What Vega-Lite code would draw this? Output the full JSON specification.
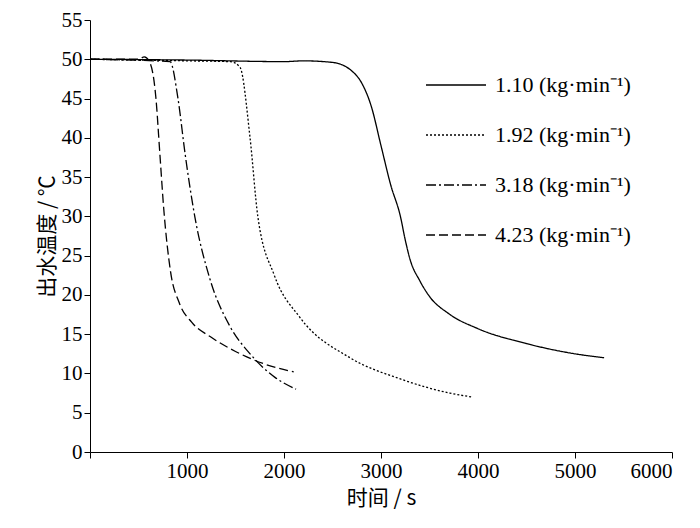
{
  "$schema": "https://vega.github.io/schema/vega-lite/v6.json",
  "width": 582,
  "height": 432,
  "autosize": {"type": "none"},
  "padding": {"left": 90, "top": 20, "right": 28, "bottom": 76},
  "background": "white",
  "data": {"values": [
    {"s": "1.10 (kg·min⁻¹)", "t": 0, "v": 50},
    {"s": "1.10 (kg·min⁻¹)", "t": 1000, "v": 49.9},
    {"s": "1.10 (kg·min⁻¹)", "t": 2000, "v": 49.7},
    {"s": "1.10 (kg·min⁻¹)", "t": 2200, "v": 49.8},
    {"s": "1.10 (kg·min⁻¹)", "t": 2500, "v": 49.6},
    {"s": "1.10 (kg·min⁻¹)", "t": 2700, "v": 48.5},
    {"s": "1.10 (kg·min⁻¹)", "t": 2800, "v": 47},
    {"s": "1.10 (kg·min⁻¹)", "t": 2900, "v": 44},
    {"s": "1.10 (kg·min⁻¹)", "t": 3000, "v": 39},
    {"s": "1.10 (kg·min⁻¹)", "t": 3100, "v": 34},
    {"s": "1.10 (kg·min⁻¹)", "t": 3200, "v": 30},
    {"s": "1.10 (kg·min⁻¹)", "t": 3250, "v": 27},
    {"s": "1.10 (kg·min⁻¹)", "t": 3300, "v": 24.5},
    {"s": "1.10 (kg·min⁻¹)", "t": 3400, "v": 21.8},
    {"s": "1.10 (kg·min⁻¹)", "t": 3500, "v": 19.8},
    {"s": "1.10 (kg·min⁻¹)", "t": 3700, "v": 17.6},
    {"s": "1.10 (kg·min⁻¹)", "t": 4000, "v": 15.7},
    {"s": "1.10 (kg·min⁻¹)", "t": 4500, "v": 13.8},
    {"s": "1.10 (kg·min⁻¹)", "t": 5000, "v": 12.5},
    {"s": "1.10 (kg·min⁻¹)", "t": 5300, "v": 12},
    {"s": "1.92 (kg·min⁻¹)", "t": 0, "v": 50},
    {"s": "1.92 (kg·min⁻¹)", "t": 1000, "v": 49.8},
    {"s": "1.92 (kg·min⁻¹)", "t": 1450, "v": 49.7},
    {"s": "1.92 (kg·min⁻¹)", "t": 1546, "v": 49},
    {"s": "1.92 (kg·min⁻¹)", "t": 1650, "v": 40},
    {"s": "1.92 (kg·min⁻¹)", "t": 1730, "v": 30},
    {"s": "1.92 (kg·min⁻¹)", "t": 1900, "v": 22.5},
    {"s": "1.92 (kg·min⁻¹)", "t": 2160, "v": 17.2},
    {"s": "1.92 (kg·min⁻¹)", "t": 2680, "v": 12},
    {"s": "1.92 (kg·min⁻¹)", "t": 3200, "v": 9.3},
    {"s": "1.92 (kg·min⁻¹)", "t": 3710, "v": 7.5},
    {"s": "1.92 (kg·min⁻¹)", "t": 3940, "v": 7},
    {"s": "3.18 (kg·min⁻¹)", "t": 0, "v": 50},
    {"s": "3.18 (kg·min⁻¹)", "t": 825, "v": 49.7},
    {"s": "3.18 (kg·min⁻¹)", "t": 907, "v": 45},
    {"s": "3.18 (kg·min⁻¹)", "t": 980, "v": 38},
    {"s": "3.18 (kg·min⁻¹)", "t": 1080, "v": 30},
    {"s": "3.18 (kg·min⁻¹)", "t": 1237, "v": 22},
    {"s": "3.18 (kg·min⁻¹)", "t": 1443, "v": 16},
    {"s": "3.18 (kg·min⁻¹)", "t": 1650, "v": 12.5},
    {"s": "3.18 (kg·min⁻¹)", "t": 1907, "v": 9.5},
    {"s": "3.18 (kg·min⁻¹)", "t": 2124, "v": 8},
    {"s": "4.23 (kg·min⁻¹)", "t": 0, "v": 50},
    {"s": "4.23 (kg·min⁻¹)", "t": 500, "v": 50},
    {"s": "4.23 (kg·min⁻¹)", "t": 560, "v": 50.3},
    {"s": "4.23 (kg·min⁻¹)", "t": 620, "v": 49.5},
    {"s": "4.23 (kg·min⁻¹)", "t": 680, "v": 45},
    {"s": "4.23 (kg·min⁻¹)", "t": 720, "v": 38},
    {"s": "4.23 (kg·min⁻¹)", "t": 760, "v": 31},
    {"s": "4.23 (kg·min⁻¹)", "t": 830, "v": 23},
    {"s": "4.23 (kg·min⁻¹)", "t": 920, "v": 19},
    {"s": "4.23 (kg·min⁻¹)", "t": 1050, "v": 16.5},
    {"s": "4.23 (kg·min⁻¹)", "t": 1250, "v": 14.6},
    {"s": "4.23 (kg·min⁻¹)", "t": 1500, "v": 12.8},
    {"s": "4.23 (kg·min⁻¹)", "t": 1800, "v": 11.2},
    {"s": "4.23 (kg·min⁻¹)", "t": 2100, "v": 10.2}
  ]},
  "mark": {"type": "line", "color": "black", "strokeWidth": 1.3, "interpolate": "monotone"},
  "encoding": {
    "x": {"field": "t", "type": "quantitative",
      "scale": {"domain": [0, 6000], "nice": false},
      "axis": {"title": "时间 / s", "values": [0, 1000, 2000, 3000, 4000, 5000, 6000],
        "labelExpr": "datum.value == 0 ? '' : datum.label", "format": "d", "grid": false, "titlePadding": 6}},
    "y": {"field": "v", "type": "quantitative",
      "scale": {"domain": [0, 55], "nice": false},
      "axis": {"title": "出水温度 / ℃", "values": [0, 5, 10, 15, 20, 25, 30, 35, 40, 45, 50, 55], "grid": false}},
    "strokeDash": {"field": "s", "type": "nominal",
      "scale": {"range": [[1, 0], [2, 2], [10, 3, 2, 3], [9, 4]]},
      "legend": {"title": null, "orient": "none", "legendX": 335, "legendY": 34,
        "symbolType": "stroke", "symbolSize": 3600, "symbolStrokeWidth": 1.3,
        "symbolStrokeColor": "black", "labelFontSize": 22, "labelFont": "Liberation Serif",
        "rowPadding": 8, "labelLimit": 300, "labelOffset": 8}}
  },
  "config": {
    "view": {"stroke": null},
    "axis": {"domainColor": "black", "tickColor": "black", "labelColor": "black", "titleColor": "black",
      "labelFont": "Liberation Serif", "labelFontSize": 21, "titleFont": "Noto Sans CJK SC",
      "titleFontSize": 21, "titleFontWeight": "normal", "tickSize": 6}
  }
}
